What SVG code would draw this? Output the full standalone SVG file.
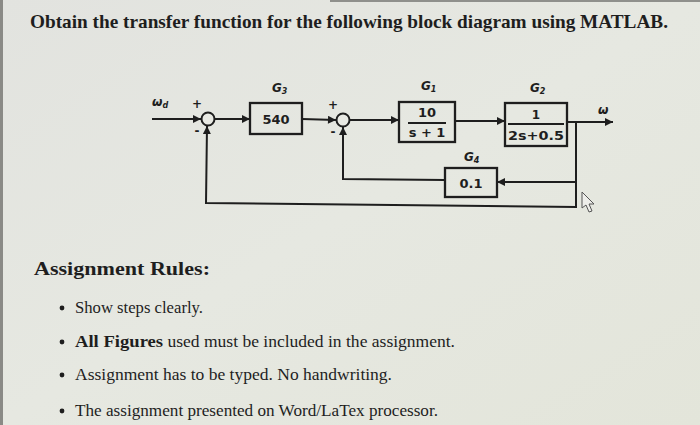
<svg xmlns="http://www.w3.org/2000/svg" width="700" height="425" viewBox="0 0 700 425">
<defs>
<linearGradient id="bg" x1="0" y1="0" x2="1" y2="1">
<stop offset="0" stop-color="#e2e3df"/>
<stop offset="0.5" stop-color="#e6e8e1"/>
<stop offset="1" stop-color="#e3e5da"/>
</linearGradient>
<marker id="ah" viewBox="0 0 10 10" refX="10" refY="5" markerWidth="11" markerHeight="8" markerUnits="userSpaceOnUse" orient="auto">
<path d="M0,0 L10,5 L0,10 Z" fill="#1e1e1e"/>
</marker>
<style>
.ln{fill:none;stroke:#1e1e1e;stroke-width:2}
.bx{fill:none;stroke:#1e1e1e;stroke-width:2.3}
.sj{fill:#e8e9e3;stroke:#1e1e1e;stroke-width:2}
.dt{font-family:"DejaVu Sans",sans-serif;font-weight:bold;fill:#1e1e1e}
.gl{font-family:"DejaVu Sans",sans-serif;font-style:italic;font-weight:bold;fill:#1e1e1e;font-size:12px}
.sg{font-family:"DejaVu Sans",sans-serif;font-weight:bold;fill:#1e1e1e;font-size:12px}
.tx{font-family:"Liberation Serif",serif;fill:#1e1e1e}
</style>
</defs>
<rect width="700" height="425" fill="url(#bg)"/>
<rect x="0" y="0" width="3" height="425" fill="#8a8a86"/>
<line x1="330" y1="1" x2="700" y2="1" stroke="#8f908c" stroke-width="2"/>

<text class="tx" x="30" y="28" font-size="19" font-weight="bold" textLength="638" lengthAdjust="spacingAndGlyphs">Obtain the transfer function for the following block diagram using MATLAB.</text>

<g id="connectors">
<line class="ln" x1="152" y1="119" x2="201" y2="119" marker-end="url(#ah)"/>
<line class="ln" x1="215" y1="119" x2="250" y2="119" marker-end="url(#ah)"/>
<line class="ln" x1="302" y1="119" x2="336" y2="120" marker-end="url(#ah)"/>
<line class="ln" x1="350" y1="120" x2="399" y2="120" marker-end="url(#ah)"/>
<line class="ln" x1="455" y1="121" x2="505" y2="121" marker-end="url(#ah)"/>
<line class="ln" x1="567" y1="122" x2="613" y2="122" marker-end="url(#ah)"/>
<polyline class="ln" points="576,122 576,182 497,182" marker-end="url(#ah)"/>
<polyline class="ln" points="576,182 576,207 206,203 207,126" marker-end="url(#ah)"/>
<polyline class="ln" points="445,180 343,179 343,127" marker-end="url(#ah)"/>
</g>

<g id="sum1">
<circle class="sj" cx="208" cy="119" r="6.5"/>
<text class="sg" x="197" y="108" text-anchor="middle">+</text>
<text class="sg" x="197" y="135" text-anchor="middle">-</text>
</g>
<g id="sum2">
<circle class="sj" cx="343" cy="120" r="6.5"/>
<text class="sg" x="333" y="109" text-anchor="middle">+</text>
<text class="sg" x="333" y="136" text-anchor="middle">-</text>
</g>

<g id="input">
<text class="gl" x="152" y="106">ω<tspan font-size="8" dy="2">d</tspan></text>
</g>
<g id="output">
<text class="gl" x="598" y="114">ω</text>
</g>

<g id="G3">
<rect class="bx" x="250" y="103" width="52" height="31"/>
<text class="dt" x="276" y="124" font-size="13" text-anchor="middle">540</text>
<text class="gl" x="272" y="92">G<tspan font-size="8" dy="2">3</tspan></text>
</g>

<g id="G1">
<rect class="bx" x="399" y="102" width="56" height="40"/>
<text class="dt" x="427" y="117" font-size="13" text-anchor="middle">10</text>
<line class="ln" x1="408" y1="123" x2="446" y2="123"/>
<text class="dt" x="427" y="137" font-size="13" text-anchor="middle">s + 1</text>
<text class="gl" x="421" y="90">G<tspan font-size="8" dy="2">1</tspan></text>
</g>

<g id="G2">
<rect class="bx" x="505" y="103" width="62" height="43"/>
<text class="dt" x="536" y="119" font-size="12" text-anchor="middle">1</text>
<line class="ln" x1="508" y1="124" x2="564" y2="124"/>
<text class="dt" x="536" y="140" font-size="12" text-anchor="middle" textLength="56" lengthAdjust="spacingAndGlyphs">2s+0.5</text>
<text class="gl" x="530" y="92">G<tspan font-size="8" dy="2">2</tspan></text>
</g>

<g id="G4">
<rect class="bx" x="445" y="168" width="52" height="29"/>
<text class="dt" x="471" y="188" font-size="13" text-anchor="middle">0.1</text>
<text class="gl" x="464" y="161">G<tspan font-size="8" dy="2">4</tspan></text>
</g>

<path d="M582,192 L582,208 L586,205 L589,212 L592,211 L589,204 L594,204 Z" fill="#eeeeea" stroke="#555" stroke-width="1"/>

<text class="tx" x="34" y="275" font-size="19" font-weight="bold" textLength="176" lengthAdjust="spacingAndGlyphs">Assignment Rules:</text>

<g class="tx" font-size="16">
<circle cx="62" cy="308" r="2.4" fill="#1e1e1e"/>
<text x="75" y="313" textLength="128" lengthAdjust="spacingAndGlyphs">Show steps clearly.</text>
<circle cx="62" cy="342" r="2.4" fill="#1e1e1e"/>
<text x="75" y="347" textLength="380" lengthAdjust="spacingAndGlyphs"><tspan font-weight="bold" font-size="17">All Figures</tspan> used must be included in the assignment.</text>
<circle cx="62" cy="375" r="2.4" fill="#1e1e1e"/>
<text x="75" y="380" textLength="317" lengthAdjust="spacingAndGlyphs">Assignment has to be typed.  No handwriting.</text>
<circle cx="62" cy="411" r="2.4" fill="#1e1e1e"/>
<text x="75" y="416" textLength="363" lengthAdjust="spacingAndGlyphs">The assignment presented on Word/LaTex processor.</text>
</g>
</svg>
